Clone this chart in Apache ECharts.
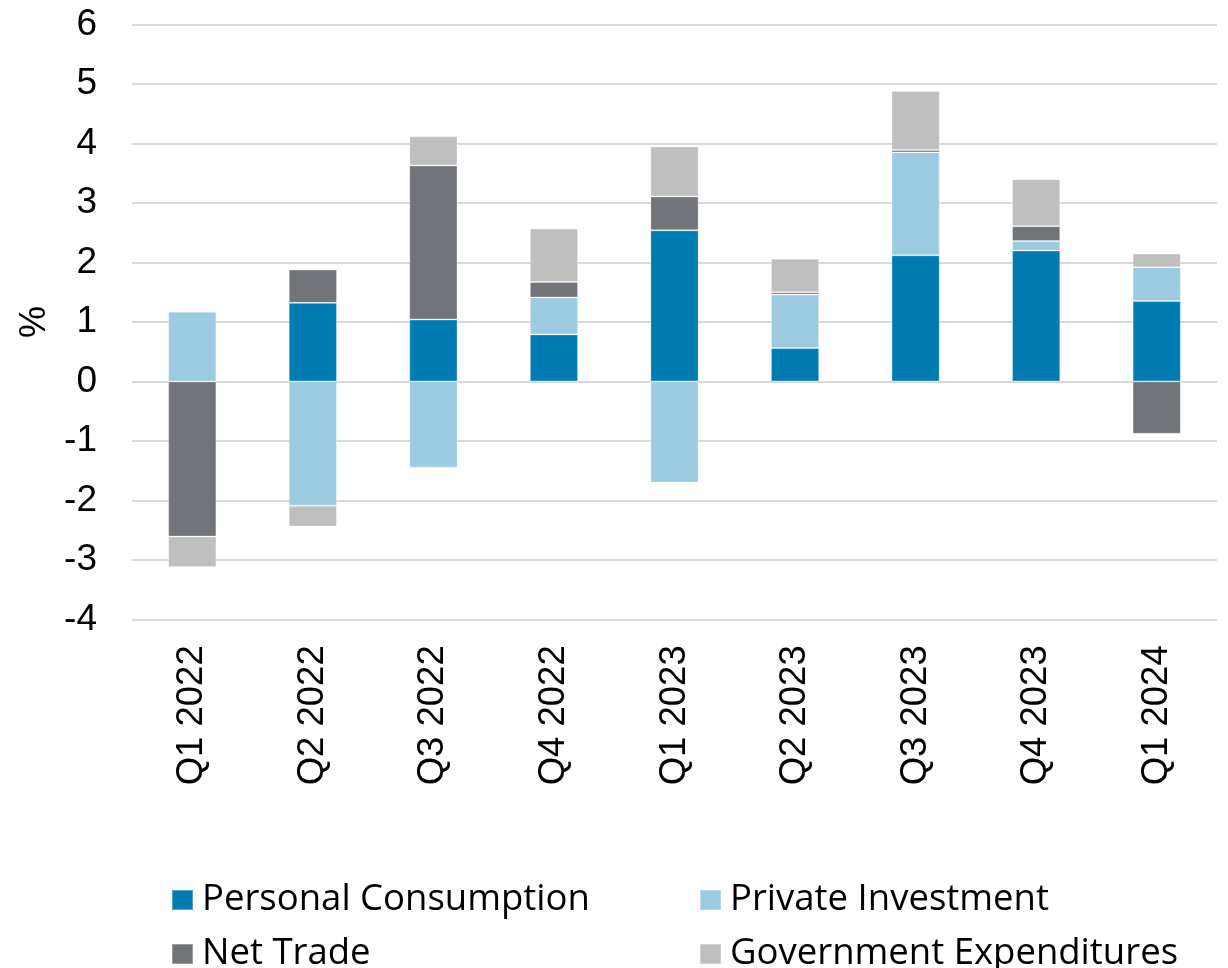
<!DOCTYPE html>
<html>
<head>
<meta charset="utf-8">
<script src="https://cdn.jsdelivr.net/npm/echarts@6/dist/echarts.min.js"></script>
<style>
html,body{margin:0;padding:0;background:#fff;}
#c{width:1228px;height:968px;}
</style>
</head>
<body>
<div id="c"></div>
<script>
const categories = ['Q1 2022','Q2 2022','Q3 2022','Q4 2022','Q1 2023','Q2 2023','Q3 2023','Q4 2023','Q1 2024'];
const personalConsumption = [0, 1.32, 1.04, 0.79, 2.54, 0.56, 2.12, 2.20, 1.35];
const privateInvestment   = [1.17, -2.09, -1.45, 0.62, -1.70, 0.90, 1.73, 0.16, 0.57];
const netTrade            = [-2.61, 0.56, 2.59, 0.26, 0.57, 0.04, 0.04, 0.25, -0.88];
const govExpenditures     = [-0.51, -0.35, 0.49, 0.90, 0.84, 0.56, 0.99, 0.79, 0.23];
const seriesNames = ['Personal Consumption', 'Private Investment', 'Net Trade', 'Government Expenditures'];
const yTicks = { min: -4, max: 6, interval: 1 };

const colors = ['#007cb2', '#9ccbe1', '#717479', '#bfbfbf'];
const axisFont = 'Liberation Sans, Arial, sans-serif';
const legendFont = 'Open Sans, sans-serif';

function bar(name, data, color) {
  return {
    name, type: 'bar', stack: 'total', data,
    barWidth: '40%',
    itemStyle: { color, borderColor: 'rgba(255,255,255,0.3)', borderWidth: 1 },
    emphasis: { disabled: true }
  };
}

// legend positions: [left, top] for each series, 2x2 layout
const legendPos = [[171, 880], [699, 880], [171, 934], [699, 934]];
const legends = seriesNames.map((n, i) => ({
  data: [n], orient: 'horizontal', padding: 0,
  left: legendPos[i][0], top: legendPos[i][1],
  itemWidth: 21, itemHeight: 20, icon: 'rect', selectedMode: false,
  textStyle: { fontSize: 36.5, lineHeight: 40, color: '#000', fontFamily: legendFont, padding: [0, 0, 0, 4] }
}));

const chart = echarts.init(document.getElementById('c'), null, { renderer: 'canvas' });
chart.setOption({
  animation: false,
  color: colors,
  grid: { left: 132, right: 11, top: 24.5, bottom: 348.7, outerBoundsMode: 'none' },
  xAxis: {
    type: 'category', data: categories,
    axisLine: { show: false }, axisTick: { show: false },
    axisLabel: { rotate: 90, margin: 26, fontSize: 36.5, color: '#000', fontFamily: axisFont, interval: 0 }
  },
  yAxis: {
    type: 'value', min: yTicks.min, max: yTicks.max, interval: yTicks.interval,
    name: '%', nameLocation: 'middle', nameGap: 75,
    nameTextStyle: { fontSize: 36, color: '#000', fontFamily: axisFont },
    axisLabel: { fontSize: 37, color: '#000', margin: 35, fontFamily: axisFont },
    splitLine: { lineStyle: { color: '#d9d9d9', width: 2 } },
    axisLine: { show: false }, axisTick: { show: false }
  },
  legend: legends,
  series: [
    bar(seriesNames[0], personalConsumption, colors[0]),
    bar(seriesNames[1], privateInvestment, colors[1]),
    bar(seriesNames[2], netTrade, colors[2]),
    bar(seriesNames[3], govExpenditures, colors[3])
  ]
});
</script>
</body>
</html>
